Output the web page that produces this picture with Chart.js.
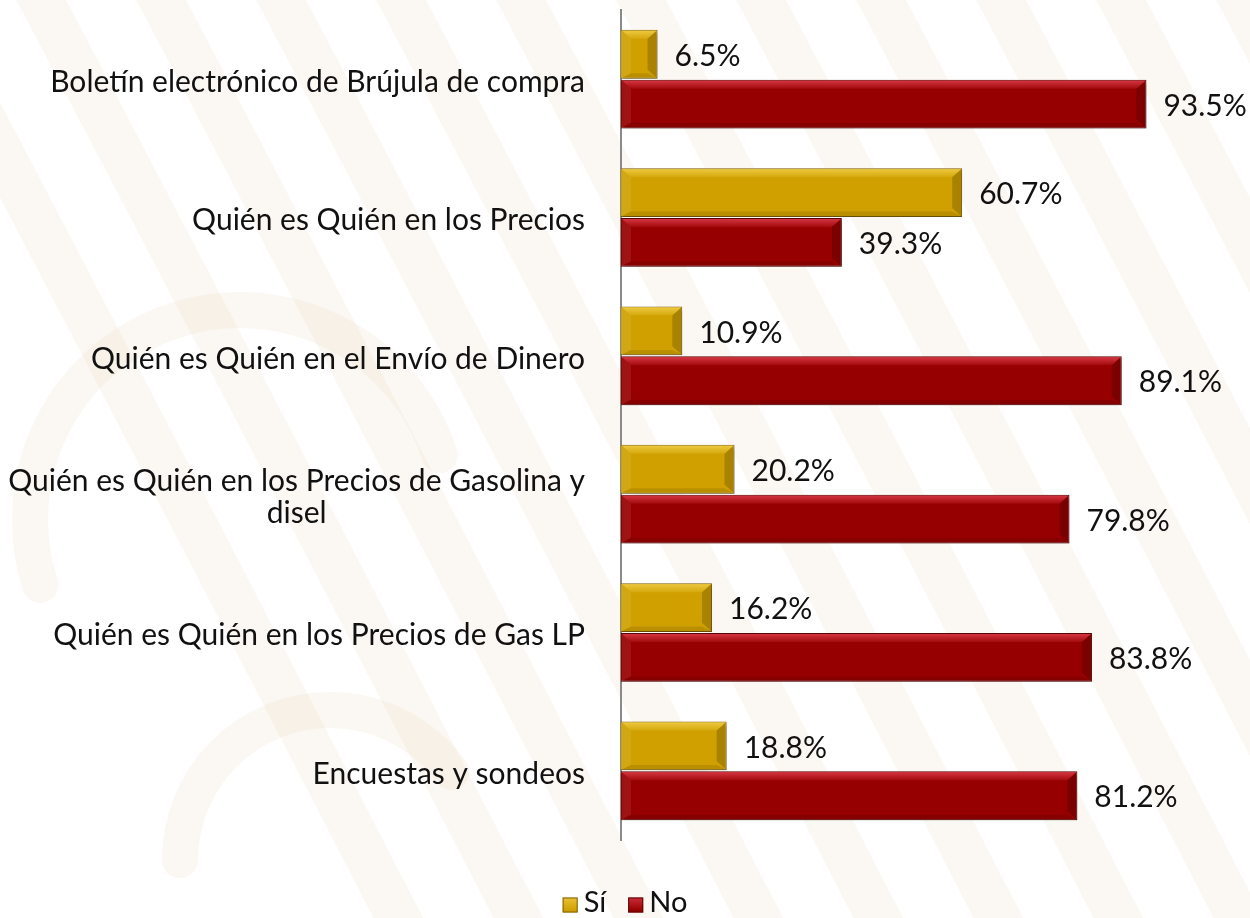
<!DOCTYPE html>
<html>
<head>
<meta charset="utf-8">
<script src="https://cdn.jsdelivr.net/npm/chart.js@4/dist/chart.umd.min.js"></script>
<style>
  html, body { margin: 0; background: #fff; }
  #wrap { width: 1250px; height: 918px; position: relative; }
</style>
</head>
<body>
<div id="wrap"><canvas id="chart"></canvas></div>
<script>
// data
const categories = [
  ["Boletín electrónico de Brújula de compra"],
  ["Quién es Quién en los Precios"],
  ["Quién es Quién en el Envío de Dinero"],
  ["Quién es Quién en los Precios de Gasolina y", "disel"],
  ["Quién es Quién en los Precios de Gas LP"],
  ["Encuestas y sondeos"]
];
const seriesNames = ["Sí", "No"];
const siValues = [6.5, 60.7, 10.9, 20.2, 16.2, 18.8];
const noValues = [93.5, 39.3, 89.1, 79.8, 83.8, 81.2];

const FONT = "Lato, 'Open Sans', sans-serif";
const gold = { fill: '#CFA000', light: '#ECC83E', edge: '#80620A' };
const red = { fill: '#960000', light: '#D43440', edge: '#5A0505' };

// faint watermark behind the chart
const watermark = {
  id: 'watermark',
  beforeDraw(chart) {
    const ctx = chart.ctx;
    ctx.save();
    ctx.fillStyle = '#fff';
    ctx.fillRect(0, 0, chart.width, chart.height);
    ctx.strokeStyle = 'rgba(240,226,208,0.28)';
    ctx.lineCap = 'round';
    ctx.lineWidth = 44;
    for (let i = -6; i < 14; i++) {
      const x0 = 620 + i * 120;
      ctx.beginPath();
      ctx.moveTo(x0, -40);
      ctx.quadraticCurveTo(x0 + 180, 300, x0 + 520, 960);
      ctx.stroke();
    }
    ctx.lineWidth = 36;
    ctx.beginPath(); ctx.arc(240, 520, 210, Math.PI * 0.9, Math.PI * 1.9); ctx.stroke();
    ctx.beginPath(); ctx.arc(330, 860, 150, Math.PI * 1.0, Math.PI * 1.8); ctx.stroke();
    ctx.restore();
  }
};

// bevel look on bars
const bevel = {
  id: 'bevel',
  beforeDatasetsDraw(chart) {
    const ctx = chart.ctx;
    ctx.save();
    ctx.shadowColor = 'rgba(0,0,0,0.22)';
    ctx.shadowOffsetX = 2;
    ctx.shadowOffsetY = 3;
    ctx.shadowBlur = 4;
  },
  afterDatasetsDraw(chart) {
    const ctx = chart.ctx;
    ctx.restore();
    ctx.save();
    chart.data.datasets.forEach((ds, di) => {
      const c = di === 0 ? gold : red;
      chart.getDatasetMeta(di).data.forEach(bar => {
        const { x, y, base, height } = bar.getProps(['x', 'y', 'base', 'height'], true);
        const top = y - height / 2, bot = y + height / 2, l = base + 1, r = x - 1;
        const b = Math.min(9, (r - l) / 3);
        // top highlight
        const g = ctx.createLinearGradient(0, top + 1, 0, top + b + 2);
        g.addColorStop(0, c.light);
        g.addColorStop(1, c.fill);
        ctx.fillStyle = g;
        ctx.beginPath();
        ctx.moveTo(l, top + 1); ctx.lineTo(r, top + 1);
        ctx.lineTo(r - b, top + b); ctx.lineTo(l + b, top + b);
        ctx.closePath(); ctx.fill();
        // right end darker
        ctx.fillStyle = 'rgba(0,0,0,0.18)';
        ctx.beginPath();
        ctx.moveTo(r, top + 1); ctx.lineTo(r, bot - 1);
        ctx.lineTo(r - b, bot - b); ctx.lineTo(r - b, top + b);
        ctx.closePath(); ctx.fill();
        // bottom darker
        ctx.fillStyle = 'rgba(0,0,0,0.10)';
        ctx.beginPath();
        ctx.moveTo(l, bot - 1); ctx.lineTo(r, bot - 1);
        ctx.lineTo(r - b, bot - b * 0.6); ctx.lineTo(l + b, bot - b * 0.6);
        ctx.closePath(); ctx.fill();
        // left end slightly lighter
        ctx.fillStyle = 'rgba(255,255,255,0.08)';
        ctx.beginPath();
        ctx.moveTo(l, top + 1); ctx.lineTo(l + b, top + b);
        ctx.lineTo(l + b, bot - b * 0.6); ctx.lineTo(l, bot - 1);
        ctx.closePath(); ctx.fill();
      });
    });
    ctx.restore();
  }
};

// value labels, category labels and legend
const texts = {
  id: 'texts',
  afterDraw(chart) {
    const ctx = chart.ctx;
    ctx.save();
    ctx.fillStyle = '#111';
    ctx.font = '30px ' + FONT;
    ctx.textBaseline = 'middle';
    ctx.textAlign = 'left';
    chart.data.datasets.forEach((ds, di) => {
      chart.getDatasetMeta(di).data.forEach((bar, i) => {
        ctx.fillText(ds.data[i].toFixed(1) + '%', bar.x + 17, bar.y + 2);
      });
    });
    const yScale = chart.scales.y;
    const right = chart.chartArea.left - 36;
    chart.data.labels.forEach((lines, i) => {
      const cy = yScale.getPixelForValue(i) + 3;
      const lh = 32;
      if (lines.length === 1) {
        ctx.textAlign = 'right';
        ctx.fillText(lines[0], right, cy);
      } else {
        const w = ctx.measureText(lines[0]).width;
        const cx = right - w / 2;
        ctx.textAlign = 'center';
        lines.forEach((t, k) => ctx.fillText(t, cx, cy + (k - (lines.length - 1) / 2) * lh));
      }
    });
    // legend
    ctx.font = '29px ' + FONT;
    const items = chart.data.datasets.map((ds, di) => ({ label: ds.label, c: di === 0 ? gold : red }));
    const box = 15, gap = 6, spacing = 22;
    let total = 0;
    items.forEach(it => { it.w = box + gap + ctx.measureText(it.label).width; total += it.w; });
    total += spacing * (items.length - 1);
    let lx = chart.width / 2 - total / 2;
    const ly = 903;
    ctx.textAlign = 'left';
    items.forEach(it => {
      const g = ctx.createLinearGradient(0, ly - box / 2, 0, ly + box / 2);
      g.addColorStop(0, it.c.light);
      g.addColorStop(1, it.c.fill);
      ctx.fillStyle = g;
      ctx.fillRect(lx, ly - box / 2 + 2, box, box);
      ctx.strokeStyle = it.c.edge;
      ctx.lineWidth = 1;
      ctx.strokeRect(lx + 0.5, ly - box / 2 + 2.5, box - 1, box - 1);
      ctx.fillStyle = '#111';
      ctx.fillText(it.label, lx + box + gap, ly);
      lx += it.w + spacing;
    });
    ctx.restore();
  }
};

new Chart(document.getElementById('chart'), {
  type: 'bar',
  data: {
    labels: categories,
    datasets: [
      { label: seriesNames[0], data: siValues, backgroundColor: gold.fill, borderColor: gold.edge, borderWidth: 1 },
      { label: seriesNames[1], data: noValues, backgroundColor: red.fill, borderColor: red.edge, borderWidth: 1 }
    ]
  },
  options: {
    indexAxis: 'y',
    responsive: true,
    maintainAspectRatio: false,
    animation: false,
    layout: { padding: { left: 621, right: 67, top: 10, bottom: 78 } },
    datasets: { bar: { categoryPercentage: 0.72, barPercentage: 0.98 } },
    scales: {
      x: { min: 0, max: 100, display: false },
      y: {
        ticks: { display: false },
        grid: { display: false, drawTicks: false },
        border: { display: true, color: '#8a8a8a', width: 2 }
      }
    },
    plugins: {
      legend: { display: false },
      tooltip: { enabled: false }
    }
  },
  plugins: [watermark, bevel, texts]
});
</script>
</body>
</html>
